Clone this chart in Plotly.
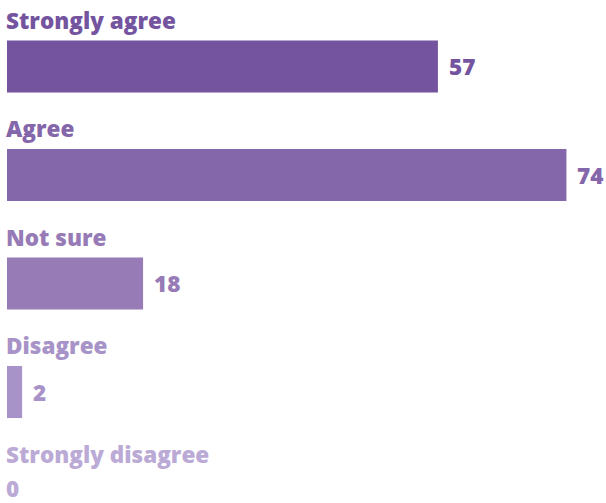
import plotly.graph_objects as go

categories = ["Strongly agree", "Agree", "Not sure", "Disagree", "Strongly disagree"]
values = [57, 74, 18, 2, 0]
colors = ["#74549F", "#8466AB", "#967BB6", "#A893C8", "#BBAAD6"]

pos = list(range(len(categories)))
FONT = "Open Sans"

fig = go.Figure(go.Bar(
    x=values, y=pos, orientation="h",
    marker=dict(color=colors, line=dict(width=0)),
    width=0.48, hoverinfo="skip",
))

ann = []
for i, (c, v, col) in enumerate(zip(categories, values, colors)):
    ann.append(dict(x=0, y=i - 0.4286, xref="x", yref="y", text=c, showarrow=False,
                    xanchor="left", yanchor="middle", xshift=-3,
                    font=dict(family=FONT, size=22.5, color=col, weight=800)))
    ann.append(dict(x=v, y=i, xref="x", yref="y", text=str(v), showarrow=False,
                    xanchor="left", yanchor="middle",
                    xshift=9 if v > 0 else -3, yshift=0 if v > 0 else 12,
                    font=dict(family=FONT, size=22.5, color=col, weight=800)))

fig.update_layout(
    width=606, height=503,
    margin=dict(l=7, r=0, t=0, b=0),
    paper_bgcolor="white", plot_bgcolor="white",
    showlegend=False,
    xaxis=dict(range=[0, 599 / 7.56], visible=False, fixedrange=True),
    yaxis=dict(range=[4.023, -0.613], visible=False, fixedrange=True),
    annotations=ann,
)

fig.write_html("out.html", config={"displayModeBar": False},
               post_script="document.body.style.margin='0';document.body.style.overflow='hidden';")
